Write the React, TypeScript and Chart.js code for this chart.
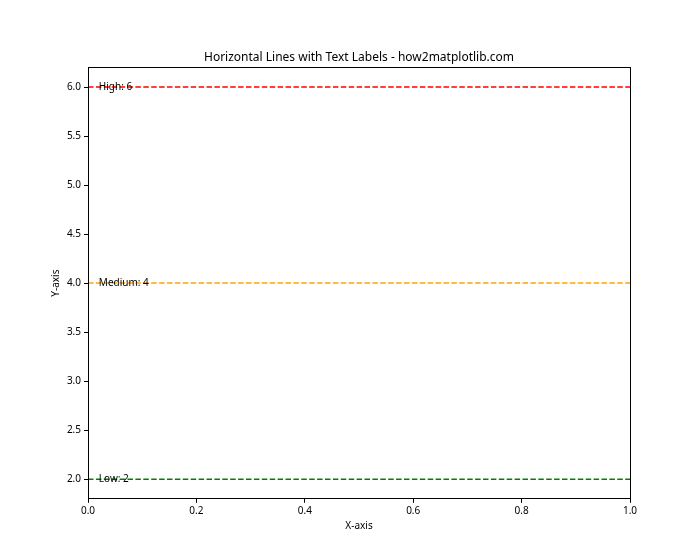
import React, { useEffect, useRef } from "react";
import { Chart, registerables } from "chart.js";

Chart.register(...registerables);

const levelValues = [6, 4, 2];
const levelNames = ["High", "Medium", "Low"];
const levelColors = ["#ff0000", "#ffa500", "#008000"];
const xRange = [0, 1];
const xTicks = [0, 0.2, 0.4, 0.6, 0.8, 1.0];
const yTicks = [2.0, 2.5, 3.0, 3.5, 4.0, 4.5, 5.0, 5.5, 6.0];
const labelX = 0.02;
const titleText = "Horizontal Lines with Text Labels - how2matplotlib.com";
const xLabel = "X-axis";
const yLabel = "Y-axis";

const FONT = "'Noto Sans', 'DejaVu Sans', sans-serif";

const overlayPlugin = {
  id: "overlay",
  afterDraw(chart: any) {
    const { ctx, chartArea, scales } = chart;
    ctx.save();
    // frame
    ctx.strokeStyle = "#000";
    ctx.lineWidth = 1;
    ctx.strokeRect(
      Math.round(chartArea.left) + 0.5,
      Math.round(chartArea.top) + 0.5,
      Math.round(chartArea.right - chartArea.left),
      Math.round(chartArea.bottom - chartArea.top)
    );
    // labels
    ctx.fillStyle = "#000";
    ctx.font = `10px ${FONT}`;
    ctx.textAlign = "left";
    ctx.textBaseline = "middle";
    levelValues.forEach((v, i) => {
      ctx.fillText(`${levelNames[i]}: ${v}`, scales.x.getPixelForValue(labelX), scales.y.getPixelForValue(v));
    });
    // title
    ctx.font = `12px ${FONT}`;
    ctx.textAlign = "center";
    ctx.textBaseline = "alphabetic";
    ctx.fillText(titleText, (chartArea.left + chartArea.right) / 2, 61);
    // axis titles
    ctx.font = `10px ${FONT}`;
    ctx.textBaseline = "middle";
    ctx.fillText(xLabel, (chartArea.left + chartArea.right) / 2, 526);
    ctx.save();
    ctx.translate(56, (chartArea.top + chartArea.bottom) / 2);
    ctx.rotate(-Math.PI / 2);
    ctx.fillText(yLabel, 0, 0);
    ctx.restore();
    ctx.restore();
  },
};

export default function App() {
  const ref = useRef<HTMLCanvasElement>(null);
  useEffect(() => {
    if (!ref.current) return;
    const chart = new Chart(ref.current, {
      type: "line",
      data: {
        datasets: levelValues.map((v, i) => ({
          label: levelNames[i],
          data: [
            { x: xRange[0], y: v },
            { x: xRange[1], y: v },
          ],
          borderColor: levelColors[i],
          borderWidth: 1.5,
          borderDash: [5.5, 2.4],
          pointRadius: 0,
          fill: false,
        })),
      },
      options: {
        animation: false,
        responsive: false,
        maintainAspectRatio: false,
        layout: { padding: { left: 0, right: 70, top: 67.4, bottom: 0 } },
        plugins: { legend: { display: false }, tooltip: { enabled: false }, title: { display: false } },
        scales: {
          x: {
            type: "linear",
            min: 0,
            max: 1,
            afterBuildTicks: (s: any) => {
              s.ticks = xTicks.map((v) => ({ value: v }));
            },
            afterFit: (s: any) => {
              s.height = 61.2;
            },
            ticks: {
              color: "#000",
              font: { family: FONT, size: 10 },
              padding: 2,
              maxRotation: 0,
              callback: (v: any) => Number(v).toFixed(1),
            },
            grid: { drawOnChartArea: false, color: "#000", tickLength: 4, tickWidth: 1 },
            border: { color: "#000", width: 1 },
          },
          y: {
            type: "linear",
            min: 1.8,
            max: 6.2,
            afterBuildTicks: (s: any) => {
              s.ticks = yTicks.map((v) => ({ value: v }));
            },
            afterFit: (s: any) => {
              s.width = 88;
            },
            ticks: {
              color: "#000",
              font: { family: FONT, size: 10 },
              padding: 3,
              callback: (v: any) => Number(v).toFixed(1),
            },
            grid: { drawOnChartArea: false, color: "#000", tickLength: 4, tickWidth: 1 },
            border: { color: "#000", width: 1 },
          },
        },
      },
      plugins: [overlayPlugin],
    });
    return () => chart.destroy();
  }, []);
  return (
    <div style={{ position: "fixed", left: 0, top: 0, width: 700, height: 560, background: "#fff" }}>
      <canvas ref={ref} width={700} height={560} style={{ width: 700, height: 560 }} />
    </div>
  );
}
